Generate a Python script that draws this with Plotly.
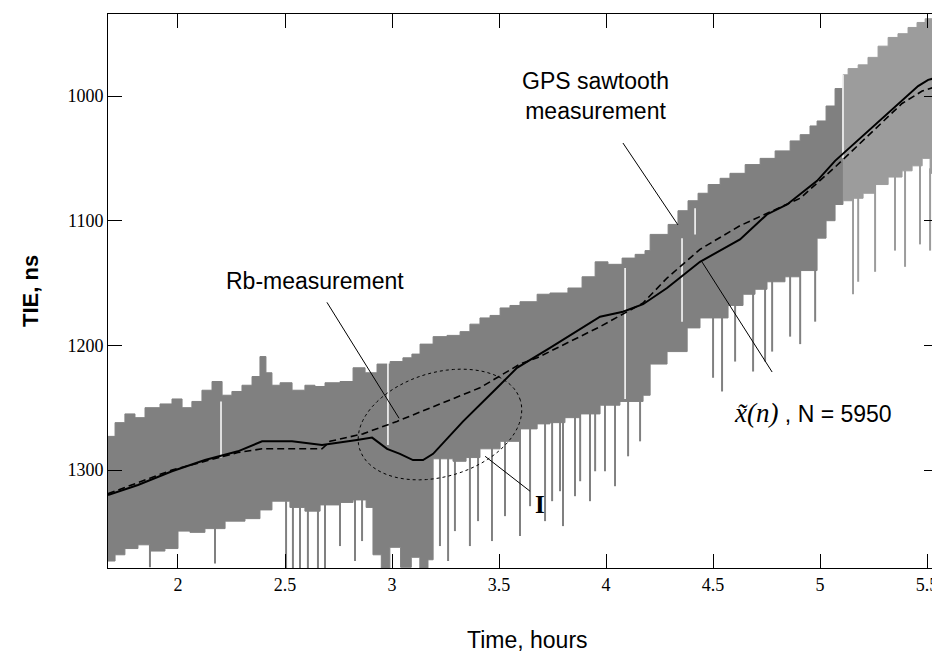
import numpy as np
import plotly.graph_objects as go

# GPS sawtooth measurement band (upper / lower envelope of the grey noise), hours / ns
band_up_t = [1.673, 1.706, 1.752, 1.799, 1.846, 1.916, 1.972, 2.019, 2.065, 2.112, 2.159, 2.206,
             2.252, 2.299, 2.346, 2.383, 2.411, 2.439, 2.477, 2.533, 2.593, 2.640, 2.687, 2.757,
             2.818, 2.874, 2.930, 2.991, 3.051, 3.093, 3.131, 3.192, 3.257, 3.318, 3.364, 3.411,
             3.458, 3.505, 3.551, 3.598, 3.678, 3.738, 3.822, 3.888, 3.949, 4.009, 4.075, 4.136,
             4.182, 4.206, 4.290, 4.336, 4.383, 4.430, 4.477, 4.533, 4.579, 4.650, 4.720, 4.790,
             4.860, 4.907, 4.953, 4.986, 5.028, 5.070, 5.107, 5.131, 5.178, 5.224, 5.271, 5.318,
             5.364, 5.411, 5.453, 5.491, 5.551]
band_up = [1273, 1262, 1255, 1258, 1250, 1247, 1243, 1250, 1245, 1236, 1229, 1240,
           1237, 1232, 1225, 1209, 1222, 1232, 1230, 1236, 1232, 1233, 1230, 1229,
           1218, 1222, 1215, 1213, 1210, 1207, 1199, 1193, 1192, 1189, 1183, 1178,
           1176, 1170, 1168, 1165, 1159, 1158, 1154, 1145, 1133, 1135, 1130, 1127,
           1124, 1111, 1103, 1092, 1084, 1078, 1071, 1066, 1062, 1055, 1050, 1044,
           1036, 1031, 1024, 1020, 1008, 994, 983, 978, 975, 969, 960, 953,
           950, 945, 941, 938, 936]

band_lo_t = [1.673, 1.706, 1.752, 1.813, 1.869, 1.939, 2.000, 2.056, 2.126, 2.220, 2.313, 2.383,
             2.439, 2.523, 2.593, 2.664, 2.757, 2.818, 2.879, 2.911, 2.950, 2.990, 3.040, 3.090,
             3.130, 3.168, 3.192, 3.285, 3.346, 3.411, 3.505, 3.598, 3.678, 3.738, 3.808, 3.879,
             3.972, 4.065, 4.173, 4.206, 4.285, 4.379, 4.439, 4.500, 4.570, 4.640, 4.696, 4.752,
             4.836, 4.907, 4.986, 5.028, 5.070, 5.107, 5.150, 5.201, 5.257, 5.318, 5.383, 5.430,
             5.477, 5.514, 5.551]
band_lo = [1373, 1368, 1363, 1360, 1365, 1363, 1349, 1350, 1347, 1341, 1339, 1332,
           1325, 1330, 1333, 1328, 1326, 1324, 1330, 1368, 1380, 1362, 1378, 1370,
           1380, 1372, 1291, 1293, 1290, 1283, 1277, 1267, 1263, 1262, 1258, 1255,
           1248, 1245, 1240, 1215, 1205, 1186, 1178, 1178, 1168, 1159, 1155, 1149,
           1145, 1140, 1114, 1100, 1087, 1084, 1082, 1078, 1071, 1065, 1060, 1056,
           1050, 1062, 1090]

# deep downward spikes of the sawtooth measurement
spike_t = [1.869, 2.173, 2.505, 2.537, 2.570, 2.607, 2.654, 2.687, 2.757, 2.827, 2.860,
           3.224, 3.262, 3.294, 3.364, 3.402, 3.467, 3.528, 3.598, 3.645, 3.715, 3.748,
           3.785, 3.799, 3.855, 3.879, 3.925, 3.949, 3.995, 4.042, 4.103, 4.159, 4.500,
           4.542, 4.603, 4.687, 4.743, 4.776, 4.860, 4.907, 4.977, 5.154, 5.178, 5.257,
           5.350, 5.397, 5.467, 5.514]
spike_top = [1360, 1335, 1325, 1325, 1328, 1330, 1325, 1325, 1320, 1320, 1322,
             1288, 1288, 1286, 1285, 1280, 1278, 1275, 1265, 1262, 1260, 1260,
             1258, 1257, 1254, 1254, 1250, 1248, 1246, 1244, 1240, 1238, 1175,
             1172, 1165, 1155, 1150, 1148, 1144, 1138, 1115, 1080, 1078, 1070,
             1063, 1060, 1050, 1058]
spike_bot = [1378, 1375, 1396, 1390, 1398, 1386, 1394, 1381, 1361, 1373, 1357,
             1361, 1373, 1349, 1361, 1341, 1357, 1337, 1353, 1329, 1341, 1325,
             1317, 1345, 1321, 1309, 1325, 1301, 1301, 1313, 1289, 1277, 1226,
             1237, 1213, 1221, 1213, 1205, 1193, 1199, 1181, 1159, 1149, 1141,
             1124, 1137, 1119, 1124]

# white gaps in the band
gap_t = [2.201, 2.981, 4.089, 4.355, 4.416, 5.107]
gap_top = [1245, 1213, 1138, 1114, 1090, 983]
gap_bot = [1290, 1280, 1243, 1181, 1111, 1050]

# x(n), N = 5950 (solid)
xn_t = [1.673, 1.813, 1.972, 2.126, 2.280, 2.393, 2.533, 2.673, 2.836, 2.907, 2.977, 3.037,
        3.098, 3.145, 3.192, 3.332, 3.491, 3.584, 3.738, 3.850, 3.972, 4.079, 4.173, 4.285,
        4.439, 4.626, 4.752, 4.846, 4.986, 5.070, 5.224, 5.383, 5.458, 5.505, 5.551]
xn_v = [1320, 1312, 1301, 1292, 1285, 1277, 1277, 1280, 1276, 1274, 1283, 1287,
        1292, 1292, 1287, 1261, 1234, 1218, 1202, 1190, 1177, 1173, 1167, 1154,
        1133, 1115, 1095, 1087, 1068, 1052, 1028, 1004, 992, 987, 985]

# Rb-measurement (dashed)
rb_t = [1.673, 1.972, 2.280, 2.393, 2.533, 2.673, 2.710, 2.864, 3.023, 3.238, 3.411, 3.598,
        3.678, 3.972, 4.173, 4.285, 4.439, 4.626, 4.752, 4.907, 5.070, 5.383, 5.477, 5.551]
rb_v = [1319, 1300, 1286, 1283, 1283, 1283, 1277, 1271, 1261, 1246, 1234, 1215,
        1210, 1185, 1166, 1146, 1123, 1104, 1094, 1082, 1057, 1006, 996, 992]

x_ticks = [2, 2.5, 3, 3.5, 4, 4.5, 5, 5.5]
x_ticktext = ["2", "2.5", "3", "3.5", "4", "4.5", "5", "5.5"]
y_ticks = [1000, 1100, 1200, 1300]

X_RANGE = [1.673, 5.551]
Y_RANGE = [1378.6, 934.2]
SPLIT_T = 5.107
DARK = "#808080"
LIGHT = "#9c9c9c"
SANS = "Liberation Sans, Arial, sans-serif"
SERIF = "Liberation Serif, Times New Roman, serif"

# page body has an 8px margin, so the figure is sized to fit inside the 940x655 window
W, H = 932, 647
M = dict(l=100, r=2, t=6, b=87)

fig = go.Figure()


def part(ts, vs, left):
    idx = [i for i, t in enumerate(ts) if (t <= SPLIT_T if left else t >= SPLIT_T)]
    return [ts[i] for i in idx], [vs[i] for i in idx]


for left, col in [(True, DARK), (False, LIGHT)]:
    ut, uv = part(band_up_t, band_up, left)
    lt, lv = part(band_lo_t, band_lo, left)
    fig.add_trace(go.Scatter(x=ut, y=uv, mode="lines", line=dict(color=col, width=1, shape="hv"),
                             hoverinfo="skip", showlegend=False))
    fig.add_trace(go.Scatter(x=lt, y=lv, mode="lines", line=dict(color=col, width=1, shape="hv"),
                             fill="tonexty", fillcolor=col, hoverinfo="skip", showlegend=False))
    sx, sy = [], []
    for t, a, b in zip(spike_t, spike_top, spike_bot):
        if (t <= SPLIT_T) == left:
            sx += [t, t, None]
            sy += [a, b, None]
    fig.add_trace(go.Scatter(x=sx, y=sy, mode="lines", line=dict(color=col, width=2),
                             hoverinfo="skip", showlegend=False))

gx, gy = [], []
for t, a, b in zip(gap_t, gap_top, gap_bot):
    gx += [t, t, None]
    gy += [a, b, None]
fig.add_trace(go.Scatter(x=gx, y=gy, mode="lines", line=dict(color="white", width=1.5),
                         hoverinfo="skip", showlegend=False))

fig.add_trace(go.Scatter(x=rb_t, y=rb_v, mode="lines", name="Rb-measurement",
                         line=dict(color="black", width=1.6, dash="7px,4px"), showlegend=False))
fig.add_trace(go.Scatter(x=xn_t, y=xn_v, mode="lines", name="x(n), N = 5950",
                         line=dict(color="black", width=2), showlegend=False))

# dotted ellipse around region I (drawn in pixels, mapped to data units)
pw = W - M["l"] - M["r"]
ph = H - M["t"] - M["b"]
kx = (X_RANGE[1] - X_RANGE[0]) / pw
ky = (Y_RANGE[0] - Y_RANGE[1]) / ph
cx, cy, ea, eb, ang = 3.224, 1263.5, 84, 52, np.radians(16.7)
s = np.linspace(0, 2 * np.pi, 73)
ex = cx + (ea * np.cos(s) * np.cos(ang) - eb * np.sin(s) * np.sin(ang)) * kx
ey = cy - (ea * np.cos(s) * np.sin(ang) + eb * np.sin(s) * np.cos(ang)) * ky
path = "M " + " L ".join(f"{a:.4f},{b:.3f}" for a, b in zip(ex, ey)) + " Z"
fig.add_shape(type="path", path=path, line=dict(color="black", width=1, dash="dot"))

# leader lines
leaders = [
    (2.696, 1165.5, 3.033, 1258.5),
    (4.079, 1037.7, 4.336, 1103.4),
    (4.449, 1133.2, 4.776, 1221.4),
    (3.435, 1289.0, 3.645, 1317.0),
]
for x0, y0, x1, y1 in leaders:
    fig.add_shape(type="line", x0=x0, y0=y0, x1=x1, y1=y1, line=dict(color="black", width=1))

fig.add_annotation(x=2.640, y=1148.5, text="Rb-measurement", showarrow=False,
                   font=dict(family=SANS, size=23, color="black"))
fig.add_annotation(x=3.953, y=1000, text="GPS sawtooth<br>measurement", showarrow=False,
                   font=dict(family=SANS, size=23, color="black"))
fig.add_annotation(x=4.589, y=1254.5, xanchor="left",
                   text="<i><span style='font-family:Liberation Serif;font-size:27px'>x̃(n)</span></i> , N = 5950",
                   showarrow=False, font=dict(family=SANS, size=23, color="black"))
fig.add_annotation(x=3.692, y=1328, text="<b>I</b>", showarrow=False,
                   font=dict(family=SERIF, size=25, color="black"))

# axis titles
fig.add_annotation(xref="paper", yref="paper", x=0.505, y=-0.13, xanchor="center", yanchor="middle",
                   text="Time, hours", showarrow=False, font=dict(family=SANS, size=23, color="black"))
fig.add_annotation(xref="paper", yref="paper", x=-0.094, y=0.50, xanchor="center", yanchor="middle",
                   text="<b>TIE, ns</b>", showarrow=False, textangle=-90,
                   font=dict(family=SANS, size=22, color="black"))

axis_common = dict(showline=True, linecolor="black", linewidth=1, mirror="ticks", ticks="inside",
                   ticklen=14, tickcolor="black", tickwidth=1, showgrid=False, zeroline=False,
                   automargin=False, tickfont=dict(family=SERIF, size=18, color="black"))

fig.update_xaxes(range=X_RANGE, tickvals=x_ticks, ticktext=x_ticktext, **axis_common)
fig.update_yaxes(range=Y_RANGE, tickvals=y_ticks, **axis_common)

fig.update_layout(width=W, height=H, margin=M, plot_bgcolor="white", paper_bgcolor="white",
                  showlegend=False)

fig.write_html("out.html")
